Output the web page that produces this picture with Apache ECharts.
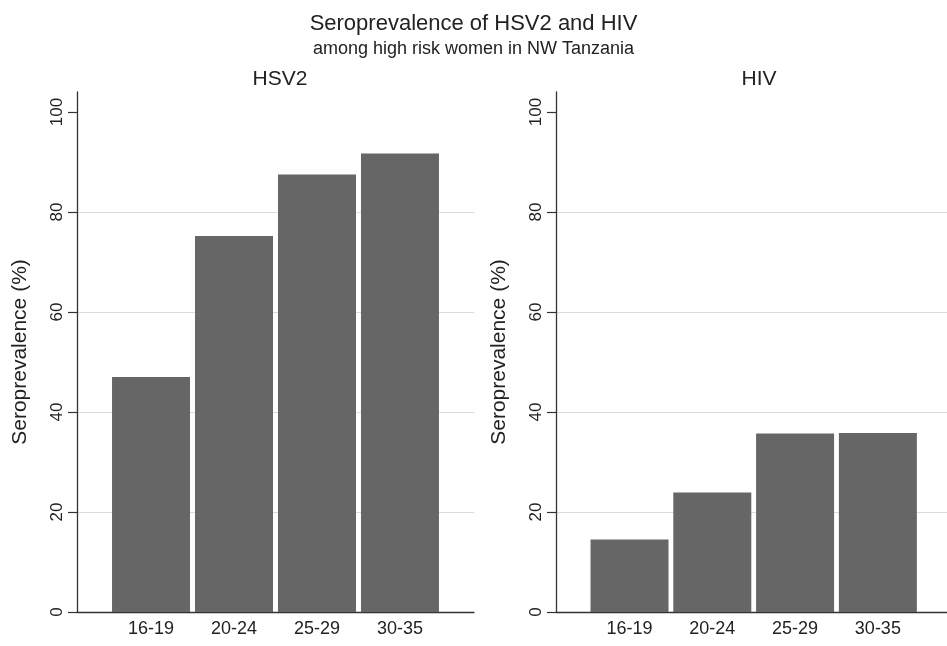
<!DOCTYPE html>
<html>
<head>
<meta charset="utf-8">
<script src="https://cdn.jsdelivr.net/npm/echarts@6/dist/echarts.min.js"></script>
<style>html,body{margin:0;padding:0;background:#fff}#c{width:947px;height:646px}</style>
</head>
<body>
<div id="c"></div>
<script>
var categories = ['16-19', '20-24', '25-29', '30-35'];
var hsv2Values = [47.0, 75.2, 87.5, 91.7];
var hivValues = [14.5, 23.9, 35.7, 35.8];
var yTicks = [0, 20, 40, 60, 80, 100];
var positions = [1, 2, 3, 4];

var chart = echarts.init(document.getElementById('c'));
var font = 'Liberation Sans, Arial, Helvetica, sans-serif';

function toData(vals) { return vals.map(function (v, i) { return [positions[i], v]; }); }

function xAxis(gi, mn, mx) {
  return {
    type: 'value', gridIndex: gi, min: mn, max: mx,
    axisLine: { show: true, onZero: false, lineStyle: { color: '#333', width: 1.3 } },
    axisTick: { show: false },
    splitLine: { show: false },
    axisLabel: {
      customValues: positions, color: '#222', fontSize: 18, fontFamily: font, margin: 8,
      formatter: function (v) { return categories[Math.round(v) - 1] || ''; }
    }
  };
}
function yAxis(gi) {
  return {
    type: 'value', gridIndex: gi, min: 0, max: 104, interval: 20,
    name: 'Seroprevalence (%)', nameLocation: 'middle', nameGap: 46, nameRotate: 90,
    nameTextStyle: { color: '#222', fontSize: 21, fontFamily: font },
    axisLine: { show: true, lineStyle: { color: '#333', width: 1.3 } },
    axisTick: { show: true, customValues: yTicks, length: 9, lineStyle: { color: '#333', width: 1.2 } },
    splitLine: { show: true, showMinLine: false, showMaxLine: false, lineStyle: { color: '#dcdcdc', width: 1 } },
    axisLabel: { customValues: yTicks, rotate: 90, color: '#222', fontSize: 17, fontFamily: font, margin: 11 }
  };
}
function barSeries(gi, vals, name) {
  return {
    type: 'bar', name: name, xAxisIndex: gi, yAxisIndex: gi, data: toData(vals),
    barWidth: 78, itemStyle: { color: '#666666' }
  };
}

chart.setOption({
  animation: false,
  backgroundColor: '#fff',
  title: [
    { text: 'Seroprevalence of HSV2 and HIV', left: 'center', top: 8,
      textStyle: { fontSize: 22, fontWeight: 'normal', color: '#222', fontFamily: font } },
    { text: 'among high risk women in NW Tanzania', left: 'center', top: 35,
      textStyle: { fontSize: 18, fontWeight: 'normal', color: '#222', fontFamily: font } },
    { text: 'HSV2', left: 275, textAlign: 'center', top: 64,
      textStyle: { fontSize: 21, fontWeight: 'normal', color: '#222', fontFamily: font } },
    { text: 'HIV', left: 754, textAlign: 'center', top: 64,
      textStyle: { fontSize: 21, fontWeight: 'normal', color: '#222', fontFamily: font } }
  ],
  grid: [
    { left: 77, top: 92, width: 397, height: 520 },
    { left: 556, top: 92, width: 391, height: 520 }
  ],
  xAxis: [xAxis(0, 0.108, 4.892), xAxis(1, 0.112, 4.835)],
  yAxis: [yAxis(0), yAxis(1)],
  series: [barSeries(0, hsv2Values, 'HSV2'), barSeries(1, hivValues, 'HIV')]
});
</script>
</body>
</html>
